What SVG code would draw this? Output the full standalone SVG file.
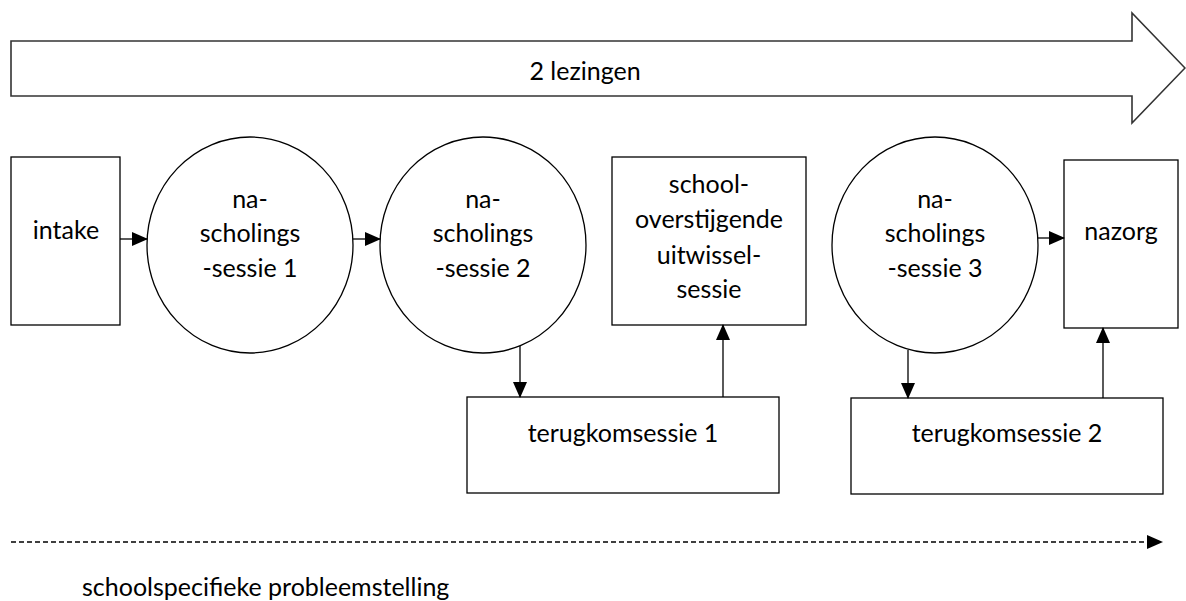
<svg xmlns="http://www.w3.org/2000/svg" width="1186" height="601" viewBox="0 0 1186 601">
<style>
.s{fill:#fff;stroke:#000;stroke-width:1.3}
.big{fill:#fff;stroke:#333;stroke-width:1.6}
.t{font-family:Lato,"Liberation Sans",sans-serif;font-size:25px;fill:#000;text-anchor:middle}
.c{stroke:#000;stroke-width:1.3;fill:none}
</style>
<defs>
<marker id="ah" markerWidth="16" markerHeight="14" refX="15" refY="7" orient="auto" markerUnits="userSpaceOnUse">
<path d="M0,0 L16,7 L0,14 Z" fill="#000"/>
</marker>
</defs>
<rect width="1186" height="601" fill="#fff"/>
<g id="lezingen">
<polygon class="big" points="11,41 1132,41 1132,13 1185,68 1132,123 1132,96 11,96"/>
<text class="t" x="585" y="80">2 lezingen</text>
</g>
<g id="intake">
<rect class="s" x="11" y="157" width="109" height="168"/>
<text class="t" x="66" y="239">intake</text>
</g>
<g id="sessie1">
<ellipse class="s" cx="250" cy="245" rx="103" ry="108"/>
<text class="t" x="250" y="208">na-</text>
<text class="t" x="250" y="242">scholings</text>
<text class="t" x="250" y="277">-sessie 1</text>
</g>
<g id="sessie2">
<ellipse class="s" cx="483" cy="245" rx="103" ry="108"/>
<text class="t" x="483" y="208">na-</text>
<text class="t" x="483" y="242">scholings</text>
<text class="t" x="483" y="277">-sessie 2</text>
</g>
<g id="uitwissel">
<rect class="s" x="612" y="157" width="194" height="168"/>
<text class="t" x="709" y="193">school-</text>
<text class="t" x="709" y="228">overstijgende</text>
<text class="t" x="709" y="264">uitwissel-</text>
<text class="t" x="709" y="298">sessie</text>
</g>
<g id="terug1">
<rect class="s" x="467" y="397" width="312" height="96"/>
<text class="t" x="623" y="442">terugkomsessie 1</text>
</g>
<g id="sessie3">
<ellipse class="s" cx="935" cy="245" rx="103" ry="108"/>
<text class="t" x="935" y="208">na-</text>
<text class="t" x="935" y="242">scholings</text>
<text class="t" x="935" y="277">-sessie 3</text>
</g>
<g id="nazorg">
<rect class="s" x="1064" y="160" width="114" height="168"/>
<text class="t" x="1121" y="240">nazorg</text>
</g>
<g id="terug2">
<rect class="s" x="851" y="398" width="312" height="96"/>
<text class="t" x="1007" y="442">terugkomsessie 2</text>
</g>
<g id="probleem">
<text class="t" x="82" y="596" style="text-anchor:start">schoolspecifieke probleemstelling</text>
</g>
<g id="connectors">
<line class="c" x1="120" y1="239" x2="147" y2="239" marker-end="url(#ah)"/>
<line class="c" x1="353" y1="239" x2="380" y2="239" marker-end="url(#ah)"/>
<line class="c" x1="1038" y1="238" x2="1064" y2="238" marker-end="url(#ah)"/>
<line class="c" x1="520" y1="346" x2="520" y2="397" marker-end="url(#ah)"/>
<line class="c" x1="723" y1="397" x2="723" y2="325" marker-end="url(#ah)"/>
<line class="c" x1="908" y1="350" x2="908" y2="398" marker-end="url(#ah)"/>
<line class="c" x1="1103" y1="398" x2="1103" y2="328" marker-end="url(#ah)"/>
<line class="c" x1="11" y1="542" x2="1162" y2="542" stroke-dasharray="5 3" marker-end="url(#ah)"/>
</g>
</svg>
